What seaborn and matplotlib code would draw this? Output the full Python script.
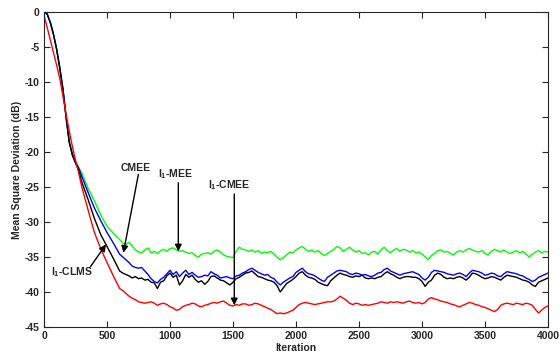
import matplotlib
matplotlib.use("Agg")
import matplotlib.pyplot as plt
import seaborn as sns
import pandas as pd

iteration = list(range(0, 301, 25)) + list(range(350, 551, 50)) + list(range(600, 4001, 25))

cmee = [0, -0.3, -1.5, -3.2, -5.3, -8.0, -11.0, -15.0, -18.5, -20.3, -21.4, -22.2, -23.0,
        -25.2, -27.0, -29.0, -30.6, -31.6,
        -32.5, -33.0, -33.2, -32.9, -33.4, -34.0, -34.3, -34.4, -34.0, -33.7, -34.4, -34.2, -34.5, -34.1, -33.9, -34.2, -33.8, -33.7, -34.0, -34.2,
        -34.1, -34.3, -34.5, -34.4, -34.8, -35.0, -34.6, -34.5, -34.4, -34.6, -34.2, -34.0, -34.3, -34.7, -34.9, -35.0, -35.1, -34.2, -33.6, -33.9,
        -34.0, -34.2, -34.0, -34.3, -34.1, -34.5, -34.3, -34.4, -34.2, -34.6, -35.0, -35.4, -35.1, -34.7, -34.3, -34.4, -34.0, -33.7, -33.5, -33.9,
        -34.2, -34.0, -34.3, -34.1, -34.5, -34.8, -34.5, -34.2, -33.9, -33.5, -33.7, -34.2, -33.9, -33.6, -34.0, -34.3, -34.1, -34.5, -34.4, -34.7,
        -34.3, -34.2, -34.6, -34.0, -33.6, -34.1, -34.4, -34.0, -33.8, -34.2, -33.9, -34.0, -34.3, -34.1, -34.4, -34.3, -34.6, -35.0, -35.4, -34.8,
        -34.5, -34.1, -34.0, -34.3, -34.2, -34.5, -34.7, -34.3, -34.1, -34.3, -34.0, -33.8, -34.0, -34.2, -34.3, -34.1, -34.5, -34.7, -34.2, -33.9,
        -34.1, -34.3, -34.0, -34.3, -34.5, -34.3, -34.1, -34.4, -34.2, -34.6, -35.0, -34.6, -34.3, -34.1, -34.4, -34.2, -34.3]

l1_mee = [0, -0.3, -1.5, -3.2, -5.3, -8.0, -11.0, -15.0, -18.5, -20.3, -21.4, -22.3, -23.5,
          -25.8, -28.0, -29.8, -31.5, -33.0,
          -34.6, -35.0, -35.4, -35.8, -36.3, -36.5, -36.6, -36.5, -37.0, -37.5, -38.1, -38.5, -38.7, -38.2, -37.9, -37.4, -36.9, -37.5, -37.1, -37.8,
          -37.3, -36.9, -37.5, -37.2, -37.6, -37.9, -37.8, -37.6, -37.7, -37.1, -37.4, -37.6, -38.0, -37.9, -37.8, -38.0, -38.1, -37.7, -37.6, -37.3,
          -37.1, -36.8, -36.6, -36.9, -37.2, -37.4, -37.6, -37.5, -37.9, -38.1, -38.6, -39.0, -38.6, -38.3, -38.0, -37.8, -37.2, -36.9, -36.6, -37.1,
          -37.4, -37.5, -37.7, -38.0, -38.3, -38.5, -37.9, -37.6, -37.3, -37.0, -36.9, -37.0, -37.1, -37.4, -37.5, -37.3, -37.4, -37.6, -37.5, -37.7,
          -37.8, -37.6, -37.3, -37.2, -36.8, -36.6, -37.0, -37.2, -37.4, -37.6, -37.4, -37.3, -37.2, -37.1, -37.3, -37.5, -38.0, -38.3, -37.9, -37.2,
          -36.9, -37.0, -37.1, -37.2, -37.4, -37.5, -37.6, -37.4, -37.3, -37.5, -37.8, -37.3, -36.9, -37.0, -37.1, -37.3, -37.6, -37.5, -37.3, -37.4,
          -37.7, -37.8, -37.4, -37.1, -37.2, -37.3, -37.4, -37.6, -37.7, -38.0, -38.2, -38.5, -38.3, -37.9, -37.7, -37.5, -37.3]

l1_cmee = [0, -0.3, -1.5, -3.2, -5.3, -8.0, -11.0, -15.0, -18.6, -20.5, -21.6, -22.6, -24.3,
           -26.8, -29.5, -31.8, -33.5, -35.2,
           -37.0, -37.3, -37.5, -37.7, -38.0, -37.8, -38.1, -38.0, -38.3, -38.2, -38.6, -38.7, -39.5, -38.6, -38.4, -37.7, -37.3, -37.9, -37.6, -39.0,
           -38.4, -37.5, -37.9, -37.6, -38.2, -38.6, -38.4, -38.9, -38.5, -37.8, -37.7, -38.0, -38.3, -38.4, -38.7, -39.0, -38.6, -38.1, -37.9, -37.6,
           -37.3, -37.2, -37.0, -37.4, -37.8, -37.9, -38.1, -38.3, -38.4, -38.6, -39.1, -40.0, -39.4, -38.8, -38.5, -38.2, -37.8, -37.3, -37.1, -37.6,
           -37.9, -38.0, -38.2, -38.6, -38.8, -39.0, -39.1, -38.4, -38.0, -37.6, -37.3, -37.5, -37.6, -37.8, -37.9, -37.7, -37.8, -37.6, -38.0, -38.1,
           -38.0, -38.1, -37.9, -37.8, -37.4, -37.1, -37.4, -37.6, -37.9, -38.1, -37.9, -37.8, -37.8, -37.9, -37.9, -38.1, -38.5, -39.2, -38.6, -38.3,
           -37.6, -37.3, -37.5, -37.9, -38.1, -38.0, -38.1, -37.9, -37.8, -38.0, -38.3, -37.9, -37.3, -37.4, -37.6, -37.9, -38.1, -38.0, -37.8, -37.9,
           -38.1, -38.3, -37.9, -37.6, -37.7, -37.8, -37.9, -38.1, -38.3, -38.4, -38.6, -39.0, -39.2, -38.6, -38.4, -38.2, -38.0]

l1_clms = [-0.5, -2.2, -4.0, -5.8, -7.6, -9.5, -12.0, -14.6, -17.0, -19.2, -21.2, -23.0, -25.0,
           -28.3, -31.5, -33.8, -35.8, -37.7,
           -39.5, -39.8, -40.2, -40.6, -40.9, -41.1, -41.4, -41.5, -41.6, -41.5, -41.4, -41.6, -41.9, -41.7, -41.6, -41.8, -42.1, -42.3, -42.6, -42.5,
           -42.1, -41.9, -41.8, -41.6, -41.7, -42.0, -42.1, -41.9, -41.8, -41.6, -41.5, -41.6, -41.4, -41.3, -41.6, -41.9, -42.0, -41.8, -41.9, -41.7,
           -41.7, -41.9, -41.8, -41.6, -41.7, -41.9, -42.1, -42.3, -42.5, -42.8, -43.1, -43.0, -43.1, -43.0, -42.8, -42.6, -42.2, -41.8, -41.6, -41.5,
           -41.6, -41.7, -41.8, -41.7, -41.6, -41.5, -41.4, -41.4, -41.3, -41.0, -40.6, -40.9, -41.2, -41.6, -41.8, -41.6, -41.7, -41.9, -41.8, -41.9,
           -41.8, -41.7, -41.6, -41.4, -41.5, -41.6, -41.4, -41.5, -41.4, -41.5, -41.6, -41.4, -41.3, -41.5, -41.6, -41.5, -41.7, -41.5, -41.0, -40.8,
           -41.0, -41.1, -41.3, -41.4, -41.5, -41.7, -41.8, -42.0, -42.1, -41.9, -41.7, -41.5, -41.6, -41.8, -41.9, -42.1, -42.2, -42.4, -42.6, -42.8,
           -42.5, -41.9, -41.7, -41.6, -41.7, -41.8, -41.6, -41.7, -41.8, -41.6, -41.7, -41.9, -42.5, -43.0, -42.6, -42.2, -42.0]

x_ticks = list(range(0, 4001, 500))
y_ticks = list(range(-45, 1, 5))

series = {"CMEE": cmee, "l1-MEE": l1_mee, "l1-CMEE": l1_cmee, "l1-CLMS": l1_clms}
colors = {"CMEE": "#00ff00", "l1-MEE": "#0000ff", "l1-CMEE": "#000000", "l1-CLMS": "#ff0000"}

frames = []
for name, vals in series.items():
    assert len(vals) == len(iteration), (name, len(vals), len(iteration))
    frames.append(pd.DataFrame({"Iteration": iteration, "MSD": vals, "method": name}))
df = pd.concat(frames, ignore_index=True)

sns.set_style("ticks")
plt.rcParams["font.family"] = ["Liberation Sans", "DejaVu Sans"]
plt.rcParams["font.weight"] = "bold"
plt.rcParams["axes.unicode_minus"] = False
plt.rcParams["mathtext.fontset"] = "custom"
plt.rcParams["mathtext.rm"] = "Liberation Sans:bold"
plt.rcParams["mathtext.bf"] = "Liberation Sans:bold"
plt.rcParams["mathtext.it"] = "Liberation Sans:bold"

fig = plt.figure(figsize=(5.6, 3.58), dpi=100)
ax = fig.add_axes([0.0786, 0.0866, 0.9, 0.88])

sns.lineplot(data=df, x="Iteration", y="MSD", hue="method", palette=colors,
             hue_order=["CMEE", "l1-MEE", "l1-CMEE", "l1-CLMS"],
             estimator=None, legend=False, linewidth=1.0, ax=ax)

ax.set_xlim(0, 4000)
ax.set_ylim(-45, 0)
ax.set_xticks(x_ticks)
ax.set_yticks(y_ticks)
ax.set_xlabel("Iteration", fontsize=7.5, fontweight="bold", labelpad=1)
ax.set_ylabel("Mean Square Deviation (dB)", fontsize=7.5, fontweight="bold", labelpad=2)
ax.tick_params(direction="in", top=True, right=True, length=4, width=0.8,
               labelsize=7.5, pad=3)
for lab in ax.get_xticklabels() + ax.get_yticklabels():
    lab.set_fontweight("bold")
for sp in ax.spines.values():
    sp.set_linewidth(0.8)
    sp.set_visible(True)

arrow = dict(arrowstyle="-|>", color="k", lw=1.0, mutation_scale=10, shrinkA=0, shrinkB=0)
fs = 7.5
ax.text(730, -22.3, "CMEE", fontsize=fs, fontweight="bold", ha="center", va="center")
ax.annotate("", xy=(630, -34.4), xytext=(749, -23.2), arrowprops=arrow)

ax.text(1045, -23.1, r"l$_{1}$-MEE", fontsize=fs, fontweight="bold", ha="center", va="center")
ax.annotate("", xy=(1066, -34.2), xytext=(1066, -24.4), arrowprops=arrow)

ax.text(1470, -24.7, r"l$_{1}$-CMEE", fontsize=fs, fontweight="bold", ha="center", va="center")
ax.annotate("", xy=(1510, -41.9), xytext=(1510, -26.0), arrowprops=arrow)

ax.text(222, -37.2, r"l$_{1}$-CLMS", fontsize=fs, fontweight="bold", ha="center", va="center")
ax.annotate("", xy=(492, -33.2), xytext=(368, -36.4), arrowprops=arrow)

fig.savefig("out.png", dpi=100)
